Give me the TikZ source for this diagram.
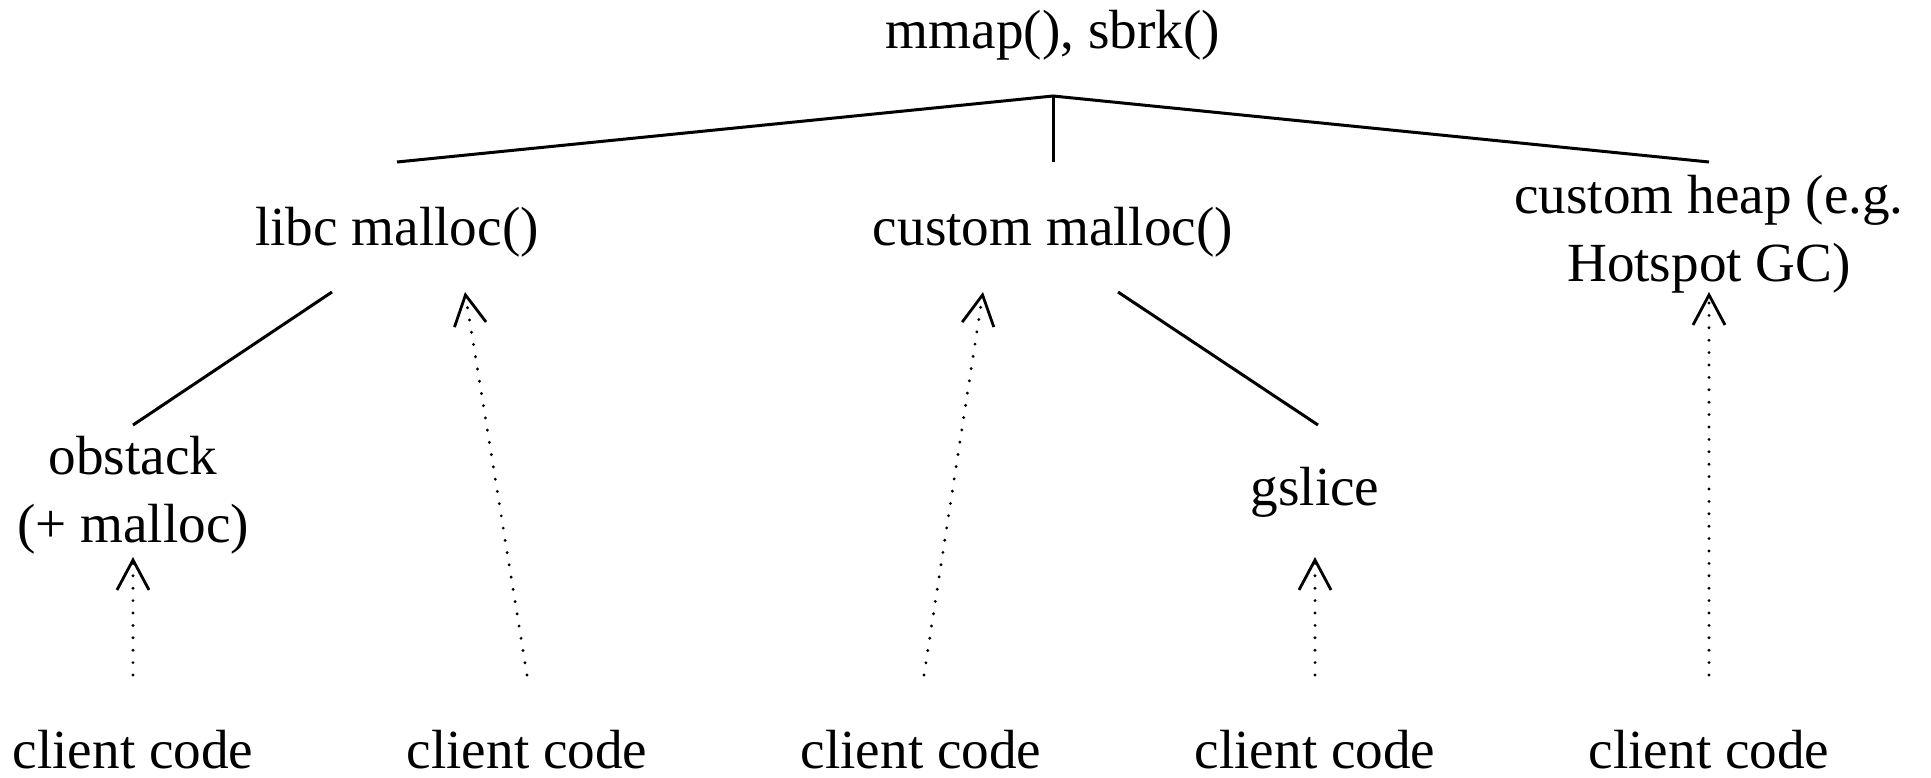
\documentclass[tikz,border=0pt]{standalone}
\usepackage{fontspec}
\setmainfont{Liberation Serif}
\usetikzlibrary{arrows.meta}
\begin{document}
\begin{tikzpicture}[x=0.5pt,y=-0.5pt,
  lbl/.style={font=\fontsize{27.6}{34}\selectfont, inner sep=0pt, align=center},
  solidline/.style={line width=1.5pt},
  uparrow/.style={line width=1.6pt, line cap=round, dash pattern=on 0pt off 6.2pt,
    -{Straight Barb[length=15pt,width=16pt,line width=1.4pt]}},
]
\useasboundingbox (0,0) rectangle (1931,777);
% nodes
\node[lbl,anchor=base] (top) at (1053,48) {mmap(), sbrk()};
\node[lbl,anchor=base] (libc) at (397,245) {libc malloc()};
\node[lbl,anchor=base] (cmal) at (1053,245) {custom malloc()};
\node[lbl] (heap) at (1709,234) {custom heap (e.g.\\Hotspot GC)};
\node[lbl] (obst) at (133,495) {obstack\\(+ malloc)};
\node[lbl,anchor=base] (gsl) at (1315,505) {gslice};
\node[lbl,anchor=base] (c1) at (133,768) {client code};
\node[lbl,anchor=base] (c2) at (527,768) {client code};
\node[lbl,anchor=base] (c3) at (921,768) {client code};
\node[lbl,anchor=base] (c4) at (1315,768) {client code};
\node[lbl,anchor=base] (c5) at (1709,768) {client code};
% connector end points
\coordinate (apex) at (1053,96);
\coordinate (libcT) at (397,162);
\coordinate (cmalT) at (1053,162);
\coordinate (heapT) at (1709,162);
\coordinate (libcBL) at (332,292);
\coordinate (obstT) at (133,425);
\coordinate (cmalBR) at (1118,292);
\coordinate (gslT) at (1318,425);
\coordinate (libcIn) at (465,292);
\coordinate (cmalIn) at (983,292);
\coordinate (heapIn) at (1709,292);
\coordinate (obstIn) at (133,557);
\coordinate (gslIn) at (1315,557);
\coordinate (c1T) at (133,675);
\coordinate (c2T) at (527,675);
\coordinate (c3T) at (924,675);
\coordinate (c4T) at (1315,675);
\coordinate (c5T) at (1709,675);
% solid tree lines
\draw[solidline] (libcT) -- (apex) -- (heapT);
\draw[solidline] (apex) -- (cmalT);
\draw[solidline] (libcBL) -- (obstT);
\draw[solidline] (cmalBR) -- (gslT);
% dotted usage arrows
\draw[uparrow] (c1T) -- (obstIn);
\draw[uparrow] (c2T) -- (libcIn);
\draw[uparrow] (c3T) -- (cmalIn);
\draw[uparrow] (c4T) -- (gslIn);
\draw[uparrow] (c5T) -- (heapIn);
\end{tikzpicture}
\end{document}
